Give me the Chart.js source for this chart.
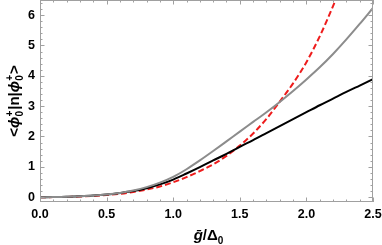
<!DOCTYPE html>
<html>
<head>
<meta charset="utf-8">
<script src="https://cdn.jsdelivr.net/npm/chart.js@4"></script>
<style>
  html, body { margin: 0; padding: 0; background: #fff; }
</style>
</head>
<body>
<canvas id="chart" width="382" height="245"></canvas>
<script>
// values
const gOverDelta = [0, 0.1, 0.2, 0.3, 0.4, 0.5, 0.6, 0.7, 0.8, 0.9, 1.0, 1.1, 1.2,
  1.3, 1.4, 1.5, 1.6, 1.7, 1.8, 1.9, 2.0, 2.1, 2.2, 2.3, 2.4, 2.5];
const blackCurve = [0, 0.002, 0.01, 0.03, 0.055, 0.09, 0.14, 0.2, 0.29, 0.42, 0.58, 0.78, 0.99,
  1.21, 1.43, 1.66, 1.88, 2.11, 2.34, 2.57, 2.8, 3.03, 3.25, 3.47, 3.68, 3.89];
const grayCurve = [0, 0.002, 0.01, 0.03, 0.055, 0.09, 0.14, 0.22, 0.33, 0.48, 0.67, 0.92, 1.21,
  1.52, 1.84, 2.16, 2.48, 2.8, 3.14, 3.5, 3.88, 4.28, 4.72, 5.2, 5.71, 6.24];
const redCurve = [0, 0.001, 0.005, 0.02, 0.04, 0.07, 0.11, 0.17, 0.25, 0.35, 0.49, 0.66, 0.86,
  1.08, 1.36, 1.7, 2.1, 2.58, 3.15, 3.75, 4.45, 5.3, 6.3, 7.4, 8.6, 10];
const xTicks = [0, 0.5, 1.0, 1.5, 2.0, 2.5];
const yTicks = [0, 1, 2, 3, 4, 5, 6];

const pts = ys => gOverDelta.map((x, i) => ({ x: x, y: ys[i] }));

const FAM = "'Liberation Sans', Arial, sans-serif";
const big = 'bold 15px ' + FAM;
const bigIt = 'italic bold 15px ' + FAM;
const small = 'bold 10px ' + FAM;

// axis titles with stacked sub/superscripts
const yTitle = [
  { t: ['<'], f: big, dy: [0] },
  { t: ['\u03d5'], f: bigIt, dy: [0] },
  { t: ['0', '+'], f: small, dy: [4, -6] },
  { t: ['|n|'], f: big, dy: [0] },
  { t: ['\u03d5'], f: bigIt, dy: [0] },
  { t: ['0', '+'], f: small, dy: [4, -6] },
  { t: ['>'], f: big, dy: [0] }
];
const xTitle = [
  { t: ['\u1e21'], f: bigIt, dy: [0] },
  { t: ['/\u0394'], f: big, dy: [0] },
  { t: ['0'], f: small, dy: [4] }
];

function drawRich(ctx, parts, cx, baseY) {
  let w = 0;
  parts.forEach(p => {
    ctx.font = p.f;
    p.w = Math.max(...p.t.map(s => ctx.measureText(s).width)) + (p.t.length > 1 ? 1 : 0);
    w += p.w;
  });
  let x = cx - w / 2;
  parts.forEach(p => {
    ctx.font = p.f;
    p.t.forEach((s, k) => ctx.fillText(s, x, baseY + p.dy[k]));
    x += p.w;
  });
}

// Mathematica-like frame with inward major/minor ticks, plus axis titles
const frameTicks = {
  id: 'frameTicks',
  afterDraw(chart) {
    const { ctx, chartArea: a, scales: { x, y } } = chart;
    ctx.save();
    ctx.strokeStyle = '#a0a0a0';
    ctx.lineWidth = 1;
    ctx.strokeRect(a.left + 0.5, a.top + 0.5, a.right - a.left - 1, a.bottom - a.top - 1);
    ctx.beginPath();
    for (let i = 0; i <= 25; i++) {
      const px = Math.round(x.getPixelForValue(i / 10)) + 0.5;
      const len = i % 5 === 0 ? 4.5 : 2.5;
      ctx.moveTo(px, a.bottom); ctx.lineTo(px, a.bottom - len);
      ctx.moveTo(px, a.top); ctx.lineTo(px, a.top + len);
    }
    for (let i = 0; i <= 32; i++) {
      const py = Math.round(y.getPixelForValue(i / 5)) + 0.5;
      const len = i % 5 === 0 ? 4.5 : 2.5;
      ctx.moveTo(a.left, py); ctx.lineTo(a.left + len, py);
      ctx.moveTo(a.right, py); ctx.lineTo(a.right - len, py);
    }
    ctx.stroke();

    ctx.fillStyle = '#000';
    ctx.textBaseline = 'alphabetic';
    ctx.textAlign = 'left';
    drawRich(ctx, xTitle, (a.left + a.right) / 2 + 2, 240);
    ctx.translate(19, (a.top + a.bottom) / 2);
    ctx.rotate(-Math.PI / 2);
    drawRich(ctx, yTitle, 0, 0);
    ctx.restore();
  }
};

const tickFont = { family: FAM, size: 12.5, weight: 'bold' };

new Chart(document.getElementById('chart'), {
  type: 'line',
  data: {
    datasets: [
      { label: 'gray', data: pts(grayCurve), borderColor: '#8c8c8c', borderWidth: 2 },
      { label: 'black', data: pts(blackCurve), borderColor: '#000000', borderWidth: 2 },
      { label: 'red', data: pts(redCurve), borderColor: '#ee1c1c', borderWidth: 2, borderDash: [6, 3] }
    ]
  },
  options: {
    responsive: false,
    animation: false,
    layout: { padding: { top: 0, right: 9, left: 0, bottom: 0 } },
    elements: { point: { radius: 0 }, line: { cubicInterpolationMode: 'monotone', fill: false } },
    plugins: { legend: { display: false }, tooltip: { enabled: false } },
    scales: {
      x: {
        type: 'linear',
        min: 0, max: 2.5,
        grid: { display: false, drawTicks: false },
        border: { display: false },
        afterBuildTicks: s => { s.ticks = xTicks.map(v => ({ value: v })); },
        afterFit: s => { s.height = 43; s.paddingLeft = 0; s.paddingRight = 0; },
        ticks: { color: '#000', font: tickFont, padding: 5, maxRotation: 0,
          callback: v => v.toFixed(1) }
      },
      y: {
        type: 'linear',
        min: -0.16, max: 6.5,
        grid: { display: false, drawTicks: false },
        border: { display: false },
        afterBuildTicks: s => { s.ticks = yTicks.map(v => ({ value: v })); },
        afterFit: s => { s.width = 40; s.paddingTop = 0; s.paddingBottom = 0; },
        ticks: { color: '#000', font: tickFont, padding: 5,
          callback: v => String(v) }
      }
    }
  },
  plugins: [frameTicks]
});
</script>
</body>
</html>
